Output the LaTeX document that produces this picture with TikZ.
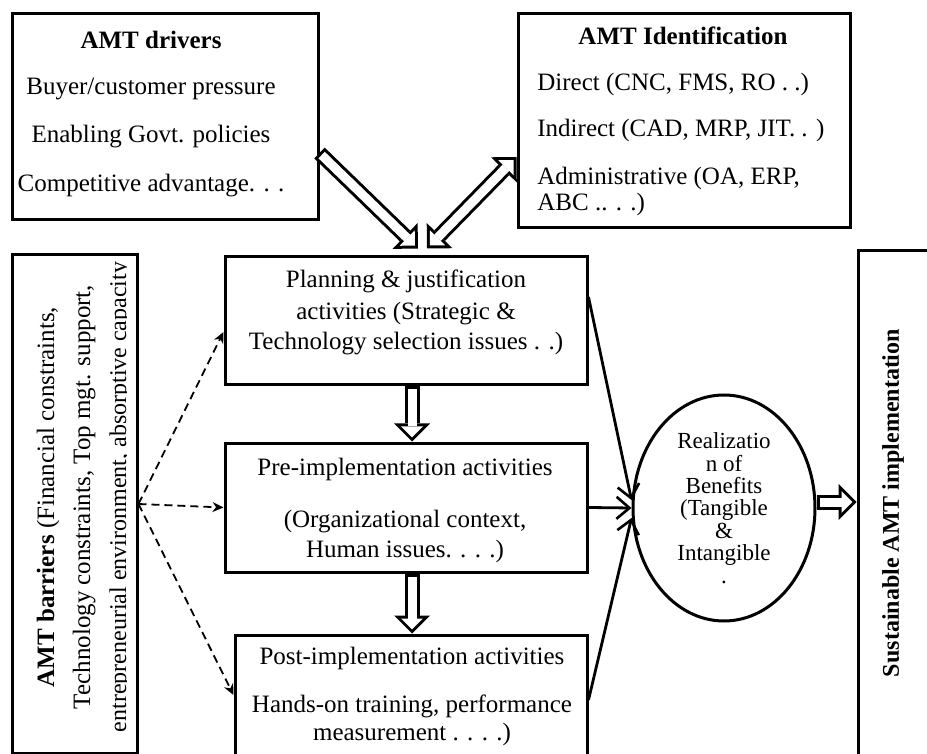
\documentclass[tikz,border=0pt]{standalone}
\usepackage{fontspec}
\setmainfont{Liberation Serif}
\usetikzlibrary{arrows.meta,positioning,shapes.geometric}
\tikzset{
  blk/.style={draw, line width=1.5pt, inner sep=0pt},
  txt/.style={font=\fontsize{12.5}{15}\selectfont, inner sep=0pt},
  hd/.style={txt, font=\fontsize{12.5}{15}\selectfont\bfseries},
  % thin feed arrows into the benefits ellipse
  flow/.style={line width=1.4pt, -{Straight Barb[length=6.5pt,width=11pt,line width=1.3pt]}},
  % dashed influence of the barriers
  dflow/.style={line width=0.9pt, dash pattern=on 4pt off 2.5pt,
    -{Stealth[length=5.5pt,width=5pt]}},
  % hollow block arrows: black body, white inside drawn over it
  hollow/.style={line width=7.5pt, -{Triangle[length=9pt,width=18pt,line width=0pt]},
    postaction={draw=white, line width=4.5pt, shorten <=1.5pt, shorten >=2.12pt,
      -{Triangle[length=5.38pt,width=10.76pt,line width=0pt]}}},
  hollowboth/.style={line width=7.5pt,
    {Triangle[length=9pt,width=18pt,line width=0pt]}-{Triangle[length=9pt,width=18pt,line width=0pt]},
    postaction={draw=white, line width=4.5pt, shorten <=2.12pt, shorten >=2.12pt,
      {Triangle[length=5.38pt,width=10.76pt,line width=0pt]}-{Triangle[length=5.38pt,width=10.76pt,line width=0pt]}}},
}
\begin{document}
\begin{tikzpicture}[x=0.5pt,y=-0.5pt]
  \clip (0,0) rectangle (927,754);
  % the boxes
  \node[blk, minimum width=153pt, minimum height=103pt] (drv) at (165,117) {};
  \node[blk, minimum width=166pt, minimum height=107pt] (ident) at (684,121) {};
  \node[blk, minimum width=62.5pt, minimum height=249pt] (bar) at (74.5,504) {};
  \node[blk, minimum width=181pt, minimum height=64pt] (plan) at (406,321) {};
  \node[blk, minimum width=181pt, minimum height=64.5pt] (pre) at (406,507.5) {};
  \node[blk, minimum width=176pt, minimum height=70pt] (post) at (411,705) {};
  \node[blk, ellipse, minimum width=91pt, minimum height=113pt, align=center,
        font=\fontsize{11.5}{11.2}\selectfont] (ben) at (724,508)
        {Realizatio\\n of\\Benefits\\(Tangible\\\&\\Intangible\\.};
  \node[blk, minimum width=51pt, minimum height=264.5pt] (sus) at (909,515.5) {};
  % drivers
  \node[hd, anchor=base] (drvT) at (151,49) {AMT drivers};
  \foreach \y/\t [count=\i] in {95/{Buyer/customer pressure}, 143/{Enabling Govt. policies},
      192/{Competitive advantage. . .}}
    \node[txt, anchor=base] (drvL\i) at (151,\y) {\t};
  % identification
  \node[hd, anchor=base] (identT) at (683,45) {AMT Identification};
  \foreach \y/\t [count=\i] in {91/{Direct (CNC, FMS, RO . .)}, 137/{Indirect (CAD, MRP, JIT. . )},
      185/{Administrative (OA, ERP,}, 211/{ABC .. . .)}}
    \node[txt, anchor=base west] (identL\i) at (537,\y) {\t};
  % the three activity stages
  \foreach \y/\t [count=\i] in {288/{Planning \& justification}, 320/{activities (Strategic \&},
      350/{Technology selection issues . .)}}
    \node[txt, anchor=base] (planL\i) at (406,\y) {\t};
  \foreach \y/\t [count=\i] in {475/{Pre-implementation activities}, 527/{(Organizational context,},
      557/{Human issues. . . .)}}
    \node[txt, anchor=base] (preL\i) at (405,\y) {\t};
  \foreach \y/\t [count=\i] in {664/{Post-implementation activities},
      712/{Hands-on training, performance}, 740/{measurement . . . .)}}
    \node[txt, anchor=base] (postL\i) at (412,\y) {\t};
  % barriers, last line cut by the box
  \begin{scope}
    \clip (14,257) rectangle (126,751);
    \node[txt, rotate=90, align=center, font=\fontsize{12.5}{18}\selectfont] (barT) at (84,497)
      {\textbf{AMT barriers} (Financial constraints,\\Technology constraints, Top mgt. support,\\
       {\fontsize{12}{18}\selectfont entrepreneurial environment, absorptive capacity}};
  \end{scope}
  \node[txt, rotate=90, font=\fontsize{12}{14}\selectfont\bfseries] (susT) at (893,503)
    {Sustainable AMT implementation};
  % block arrows
  \draw[hollow] ([yshift=-18pt]drv.east) -- ([xshift=6pt,yshift=3.5pt]plan.north);
  \draw[hollowboth] ([xshift=10.5pt,yshift=3.5pt]plan.north) -- ([yshift=-18pt]ident.west);
  \draw[hollow] ([xshift=3pt]plan.south) -- ([xshift=3pt]pre.north);
  \draw[hollow] ([xshift=3pt]pre.south) -- ([xshift=0.5pt]post.north);
  \draw[hollow] ([yshift=3pt]ben.east) -- ([yshift=3pt]ben.east -| sus.west);
  % feeds into the benefits
  \draw[flow] ([yshift=12pt]plan.east) -- ([yshift=4pt]ben.west);
  \draw[flow] (pre.east) -- (ben.west);
  \draw[flow] ([yshift=2.5pt]post.east) -- ([yshift=-5pt]ben.west);
  % barriers act on every stage
  \foreach \t/\s in {plan/-5.5pt, pre/0pt, post/5pt}
    \draw[dflow] (bar.east) -- ([yshift=\s]\t.west);
\end{tikzpicture}
\end{document}
